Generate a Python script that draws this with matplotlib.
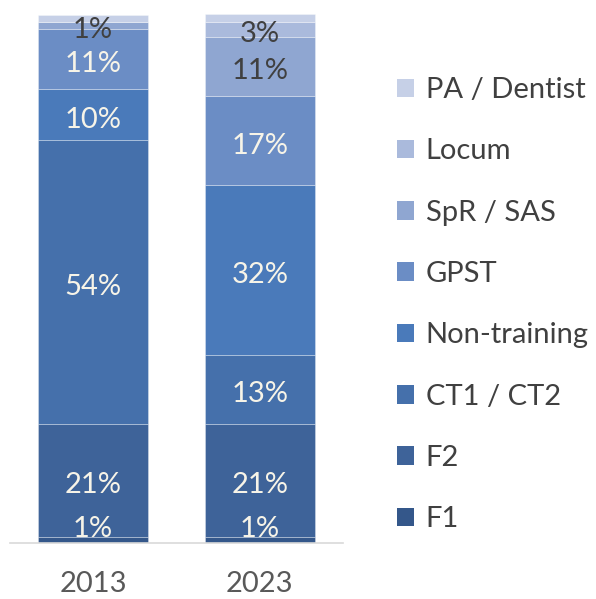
import matplotlib.pyplot as plt
from matplotlib.patches import Patch

plt.rcParams['font.family'] = ['Lato', 'DejaVu Sans']

years = ['2013', '2023']
categories = ['F1', 'F2', 'CT1 / CT2', 'Non-training', 'GPST', 'SpR / SAS', 'Locum', 'PA / Dentist']
# share of each grade (%), bottom to top
values_2013 = [1.1, 21.4, 53.6, 9.7, 11.3, 1.4, 0.0, 1.3]
values_2023 = [1.1, 21.4, 13.0, 32.1, 16.9, 11.1, 2.9, 1.5]
colors = ['#34578a', '#3e6399', '#4570ab', '#4a7aba', '#6b8dc5', '#8fa6d1', '#aabadc', '#c6d0e7']
# which segments get a label and in which colour
show_label = [True, True, True, True, True, True, True, False]
dark_text = [False, False, False, False, False, True, True, True]

fig = plt.figure(figsize=(5.96, 5.99), dpi=100)
ax = fig.add_axes([0.016, 0.0935, 0.56, 0.883])

data = [values_2013, values_2023]
x = range(len(years))
bottoms = [0.0, 0.0]
for i, cat in enumerate(categories):
    vals = [d[i] for d in data]
    ax.bar(x, vals, width=0.66, bottom=bottoms, color=colors[i],
           edgecolor=(1, 1, 1, 0.35), linewidth=0.6, label=cat)
    for j, v in enumerate(vals):
        if show_label[i] and v > 0:
            tc = '#404040' if dark_text[i] else '#f7f4e8'
            if i == 0:
                y, va = bottoms[j] + v, 'baseline'
            else:
                y, va = bottoms[j] + v / 2 - 0.9, 'center'
            ax.text(j, y, f'{round(v)}%', ha='center', va=va,
                    fontsize=21, color=tc)
    bottoms = [b + v for b, v in zip(bottoms, vals)]

ax.set_xlim(-0.5, 1.5)
ax.set_ylim(0, 100)
ax.set_xticks(list(x))
ax.set_xticklabels(years, fontsize=21, color='#595959')
ax.tick_params(axis='x', length=0, pad=20)
ax.set_yticks([])
for s in ['top', 'right', 'left']:
    ax.spines[s].set_visible(False)
ax.spines['bottom'].set_color('#d9d9d9')
ax.spines['bottom'].set_linewidth(1.2)

handles = [Patch(facecolor=c, label=l) for c, l in zip(colors, categories)][::-1]
fig.legend(handles=handles, loc='upper left', bbox_to_anchor=(0.622, 0.915),
           frameon=False, fontsize=21, labelcolor='#404040',
           handlelength=0.6, handleheight=0.6, handletextpad=0.38,
           labelspacing=1.21)

plt.savefig('out.png', dpi=100)
